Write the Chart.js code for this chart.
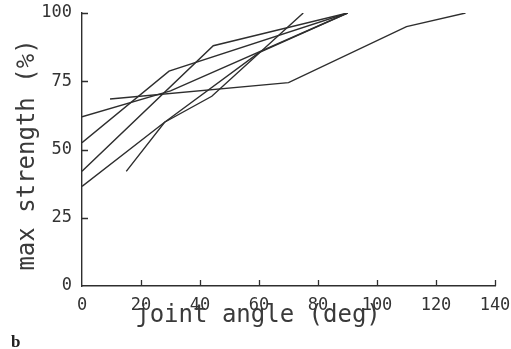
<!DOCTYPE html>
<html>
<head>
<meta charset="utf-8">
<script src="https://cdn.jsdelivr.net/npm/chart.js@4.4.1/dist/chart.umd.min.js"></script>
<style>
  html, body { margin: 0; padding: 0; background: #ffffff; }
  #wrap { position: relative; width: 511px; height: 349px; }
  canvas { display: block; }
</style>
</head>
<body>
<div id="wrap"><canvas id="c" width="511" height="349"></canvas></div>
<script>
// ---- data ----
const xTickValues = [0, 20, 40, 60, 80, 100, 120, 140];
const yTickValues = [0, 25, 50, 75, 100];
const xTitle = 'joint angle (deg)';
const yTitle = 'max strength (%)';
const panelLabel = 'b';

const line1 = [[0, 62], [30, 71.5], [90, 100]];
const line2 = [[0, 52.5], [29.5, 78.7], [90, 100]];
const line3 = [[0, 42], [44.5, 88], [90, 100]];
const line4 = [[0, 36.5], [28, 60], [60, 85.5], [90, 100]];
const line5 = [[15, 42], [28, 60], [44, 69.5], [75, 100]];
const line6 = [[9.5, 68.5], [70, 74.5], [110, 95], [130, 100]];
const allLines = [line1, line2, line3, line4, line5, line6];

const ink = '#2e2e2e';
const monoFont = '"DejaVu Sans Mono", "Liberation Mono", monospace';

const datasets = allLines.map((pts, i) => ({
  label: 'curve ' + (i + 1),
  data: pts.map(p => ({ x: p[0], y: p[1] })),
  borderColor: ink,
  borderWidth: 1.4,
  pointRadius: 0,
  fill: false,
  tension: 0
}));

const innerTicks = {
  id: 'innerTicks',
  afterDraw(chart) {
    const ctx = chart.ctx;
    const xs = chart.scales.x, ys = chart.scales.y;
    const area = chart.chartArea;
    ctx.save();
    ctx.strokeStyle = ink;
    ctx.lineWidth = 1.3;
    ctx.beginPath();
    xTickValues.forEach(v => {
      if (v === 0) return;
      const px = Math.round(xs.getPixelForValue(v)) + 0.5;
      ctx.moveTo(px, area.bottom);
      ctx.lineTo(px, area.bottom - 6);
    });
    yTickValues.forEach(v => {
      if (v === 0) return;
      const py = Math.round(ys.getPixelForValue(v)) + 0.5;
      ctx.moveTo(area.left, py);
      ctx.lineTo(area.left + 6, py);
    });
    ctx.stroke();
    // axis titles and panel label
    ctx.fillStyle = '#3a3a3a';
    ctx.font = '24px ' + monoFont;
    ctx.textAlign = 'center';
    ctx.textBaseline = 'alphabetic';
    ctx.fillText(xTitle, 258, 322);
    ctx.save();
    ctx.translate(34, 155);
    ctx.rotate(-Math.PI / 2);
    ctx.fillText(yTitle, 0, 0);
    ctx.restore();
    ctx.fillStyle = '#222';
    ctx.font = 'bold 17px "Liberation Serif", serif';
    ctx.textAlign = 'left';
    ctx.fillText(panelLabel, 11, 347);
    ctx.restore();
  }
};

function fixPad(scale) {
  scale.paddingTop = 0; scale.paddingBottom = 0;
  scale.paddingLeft = 0; scale.paddingRight = 0;
}

new Chart(document.getElementById('c'), {
  type: 'line',
  data: { datasets },
  options: {
    responsive: false,
    animation: false,
    events: [],
    layout: { padding: { left: 0, top: 13, right: 16, bottom: 0 } },
    plugins: { legend: { display: false }, tooltip: { enabled: false } },
    scales: {
      x: {
        type: 'linear',
        min: 0, max: 140,
        afterBuildTicks(scale) { scale.ticks = xTickValues.map(v => ({ value: v })); },
        afterFit(scale) { scale.height = 63; fixPad(scale); },
        grid: { display: false, drawTicks: false },
        border: { display: true, color: ink, width: 1.4 },
        ticks: {
          padding: 9,
          color: '#333',
          font: { family: monoFont, size: 17 },
          maxRotation: 0,
          autoSkip: false
        }
      },
      y: {
        type: 'linear',
        min: 0, max: 100,
        afterBuildTicks(scale) { scale.ticks = yTickValues.map(v => ({ value: v })); },
        afterFit(scale) { scale.width = 82; fixPad(scale); },
        grid: { display: false, drawTicks: false },
        border: { display: true, color: ink, width: 1.4 },
        ticks: {
          padding: 10,
          color: '#333',
          font: { family: monoFont, size: 17 },
          autoSkip: false
        }
      }
    }
  },
  plugins: [innerTicks]
});
</script>
</body>
</html>
